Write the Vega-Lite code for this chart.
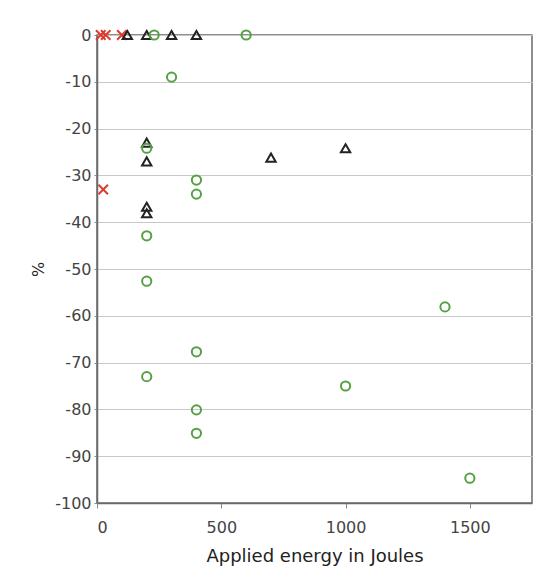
{
  "$schema": "https://vega.github.io/schema/vega-lite/v6.json",
  "width": 435,
  "height": 468,
  "autosize": "none",
  "padding": {"left": 97, "top": 35, "right": 27, "bottom": 75},
  "background": "white",
  "config": {
    "font": "DejaVu Sans",
    "view": {"stroke": "#6a6a6a", "strokeWidth": 1.5},
    "axis": {
      "labelFont": "DejaVu Sans",
      "titleFont": "DejaVu Sans",
      "labelFontSize": 16,
      "titleFontSize": 18,
      "labelColor": "#444444",
      "titleColor": "#222222",
      "titleFontWeight": "normal",
      "domainColor": "#6a6a6a",
      "domainWidth": 1.5,
      "tickColor": "#8a8a8a",
      "gridColor": "#c8c8c8",
      "gridWidth": 1
    }
  },
  "data": {
    "values": [
      {"energy": 15, "pct": 0, "series": "A"},
      {"energy": 35, "pct": 0, "series": "A"},
      {"energy": 100, "pct": 0, "series": "A"},
      {"energy": 25, "pct": -33, "series": "A"},
      {"energy": 122, "pct": 0, "series": "B"},
      {"energy": 200, "pct": 0, "series": "B"},
      {"energy": 300, "pct": 0, "series": "B"},
      {"energy": 400, "pct": 0, "series": "B"},
      {"energy": 200, "pct": -23, "series": "B"},
      {"energy": 200, "pct": -27, "series": "B"},
      {"energy": 200, "pct": -36.7, "series": "B"},
      {"energy": 200, "pct": -38.1, "series": "B"},
      {"energy": 700, "pct": -26.2, "series": "B"},
      {"energy": 1000, "pct": -24.2, "series": "B"},
      {"energy": 230, "pct": 0, "series": "C"},
      {"energy": 600, "pct": 0, "series": "C"},
      {"energy": 300, "pct": -9, "series": "C"},
      {"energy": 200, "pct": -24.2, "series": "C"},
      {"energy": 400, "pct": -31, "series": "C"},
      {"energy": 400, "pct": -34, "series": "C"},
      {"energy": 200, "pct": -42.9, "series": "C"},
      {"energy": 200, "pct": -52.6, "series": "C"},
      {"energy": 1400, "pct": -58.1, "series": "C"},
      {"energy": 400, "pct": -67.7, "series": "C"},
      {"energy": 200, "pct": -73, "series": "C"},
      {"energy": 1000, "pct": -75, "series": "C"},
      {"energy": 400, "pct": -80.1, "series": "C"},
      {"energy": 400, "pct": -85.1, "series": "C"},
      {"energy": 1500, "pct": -94.7, "series": "C"}
    ]
  },
  "mark": {"type": "point", "filled": false, "strokeWidth": 2, "opacity": 1, "clip": false},
  "encoding": {
    "x": {
      "field": "energy",
      "type": "quantitative",
      "scale": {"domain": [0, 1750], "nice": false},
      "axis": {"values": [0, 500, 1000, 1500], "labelExpr": "'' + datum.value", "grid": false, "title": "Applied energy in Joules", "titlePadding": 12, "labelPadding": 11, "tickSize": 5}
    },
    "y": {
      "field": "pct",
      "type": "quantitative",
      "scale": {"domain": [-100, 0], "nice": false},
      "axis": {"values": [-100, -90, -80, -70, -60, -50, -40, -30, -20, -10, 0], "labelExpr": "'' + datum.value", "title": "%", "titleFontSize": 16, "titlePadding": 8, "labelPadding": 3, "tickSize": 3}
    },
    "color": {
      "field": "series",
      "type": "nominal",
      "scale": {"domain": ["A", "B", "C"], "range": ["#e03a2c", "#222222", "#55a045"]},
      "legend": null
    },
    "shape": {
      "field": "series",
      "type": "nominal",
      "scale": {"domain": ["A", "B", "C"], "range": ["M-1,-1L1,1M-1,1L1,-1", "triangle-up", "circle"]},
      "legend": null
    },
    "size": {
      "field": "series",
      "type": "nominal",
      "scale": {"domain": ["A", "B", "C"], "range": [90, 85, 42]},
      "legend": null
    }
  }
}
